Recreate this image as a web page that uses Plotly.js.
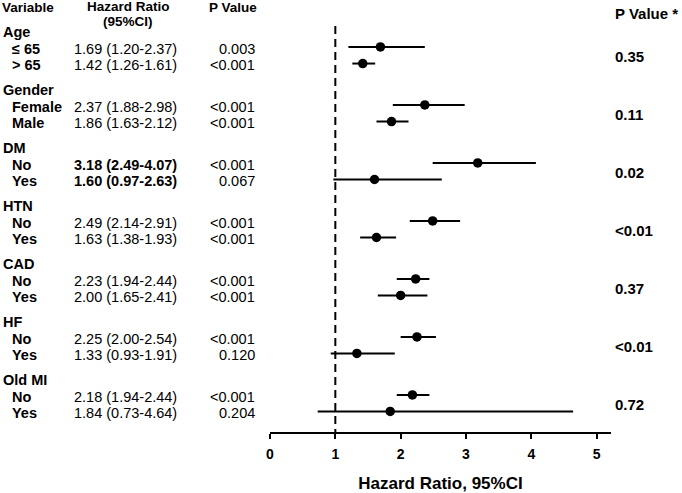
<!DOCTYPE html>
<html>
<head>
<meta charset="utf-8">
<script src="https://cdn.plot.ly/plotly-3.0.1.min.js"></script>
<style>html,body{margin:0;padding:0;background:#fff;}#chart{width:682px;height:493px;}</style>
</head>
<body>
<div id="chart"></div>
<script>
// ---- data ----
var groups = ['Age', 'Gender', 'DM', 'HTN', 'CAD', 'HF', 'Old MI'];
var subgroups = ['≤ 65', '> 65', 'Female', 'Male', 'No', 'Yes', 'No', 'Yes', 'No', 'Yes', 'No', 'Yes', 'No', 'Yes'];
var hr = [1.69, 1.42, 2.37, 1.86, 3.18, 1.60, 2.49, 1.63, 2.23, 2.00, 2.25, 1.33, 2.18, 1.84];
var ciLow = [1.20, 1.26, 1.88, 1.63, 2.49, 0.97, 2.14, 1.38, 1.94, 1.65, 2.00, 0.93, 1.94, 0.73];
var ciHigh = [2.37, 1.61, 2.98, 2.12, 4.07, 2.63, 2.91, 1.93, 2.44, 2.41, 2.54, 1.91, 2.44, 4.64];
var pValues = ['0.003', '<0.001', '<0.001', '<0.001', '<0.001', '0.067', '<0.001', '<0.001', '<0.001', '<0.001', '<0.001', '0.120', '<0.001', '0.204'];
var pInteraction = ['0.35', '0.11', '0.02', '<0.01', '0.37', '<0.01', '0.72'];
var boldGroups = ['DM'];
var xTicks = [0, 1, 2, 3, 4, 5];

// ---- layout helpers ----
var L = 270, R = 71, W = 682, H = 493;
var plotW = W - L - R;
var xMax = 5.22;
function px(p) { return (p - L) / plotW; } // pixel x -> paper x
var GROUP_STEP = 3.5;
var FONT = 'Liberation Sans, Arial, sans-serif';

var rowY = [], groupY = [], midY = [];
groups.forEach(function (g, gi) {
  var base = gi * GROUP_STEP;
  groupY.push(base);
  rowY.push(base + 1, base + 2);
  midY.push(base + 1.5);
});

var ann = [];
function addText(x, y, text, opts) {
  ann.push(Object.assign({
    xref: 'paper', yref: 'y', x: px(x), y: y, text: text, showarrow: false,
    xanchor: 'left', yanchor: 'middle', font: {family: FONT, size: 14.5, color: '#000'}
  }, opts || {}));
}

// headers
var hdrFont = {family: FONT, size: 13.5, color: '#000'};
addText(0, -1.38, '<b>Variable</b>', {font: hdrFont});
addText(128, -1.42, '<b>Hazard Ratio</b>', {xanchor: 'center', font: hdrFont});
addText(128, -0.52, '<b>(95%CI)</b>', {xanchor: 'center', font: hdrFont});
addText(233, -1.38, '<b>P Value</b>', {xanchor: 'center', font: hdrFont});
addText(613, -1.05, '<b>P Value *</b>', {font: {family: FONT, size: 15, color: '#000'}});

groups.forEach(function (g, gi) {
  addText(1, groupY[gi] + 0.1, '<b>' + g + '</b>');
  addText(613, midY[gi] + 0.1, '<b>' + pInteraction[gi] + '</b>', {font: {family: FONT, size: 15, color: '#000'}});
});
subgroups.forEach(function (s, i) {
  var gName = groups[Math.floor(i / 2)];
  var hrTxt = hr[i].toFixed(2) + ' (' + ciLow[i].toFixed(2) + '-' + ciHigh[i].toFixed(2) + ')';
  if (boldGroups.indexOf(gName) >= 0) hrTxt = '<b>' + hrTxt + '</b>';
  addText(10, rowY[i] + 0.1, '<b>' + s + '</b>');
  addText(72, rowY[i] + 0.1, hrTxt);
  addText(257, rowY[i] + 0.1, pValues[i], {xanchor: 'right'});
});

var trace = {
  type: 'scatter', mode: 'markers',
  x: hr, y: rowY,
  marker: {color: '#000', size: 9.5},
  error_x: {
    type: 'data', symmetric: false,
    array: hr.map(function (v, i) { return ciHigh[i] - v; }),
    arrayminus: hr.map(function (v, i) { return v - ciLow[i]; }),
    color: '#000', thickness: 2, width: 0
  },
  hoverinfo: 'skip', showlegend: false, cliponaxis: false
};

var yTop = -1.835, yBottom = 24.24;

var layout = {
  width: W, height: H,
  margin: {l: L, r: R, t: 0, b: 61, pad: 0},
  paper_bgcolor: '#fff', plot_bgcolor: '#fff',
  showlegend: false,
  xaxis: {
    range: [0, xMax], showgrid: false, zeroline: false,
    showline: true, linecolor: '#000', linewidth: 2,
    tickmode: 'array', tickvals: xTicks, ticktext: xTicks.map(String),
    ticks: 'outside', ticklen: 5, tickwidth: 2, tickcolor: '#000',
    ticklabelstandoff: 3,
    tickfont: {family: FONT, size: 14, color: '#000', weight: 'bold'},
    title: {text: '<b>Hazard Ratio, 95%CI</b>', font: {family: FONT, size: 17, color: '#000'}, standoff: 18},
    fixedrange: true
  },
  yaxis: {
    range: [yBottom, yTop], visible: false, showgrid: false, zeroline: false, fixedrange: true
  },
  shapes: [{
    type: 'line', xref: 'x', yref: 'y', x0: 1, x1: 1, y0: -0.27, y1: yBottom,
    line: {color: '#000', width: 2, dash: '8px,5px'}
  }],
  annotations: ann
};

Plotly.newPlot('chart', [trace], layout, {displayModeBar: false, staticPlot: true});
</script>
</body>
</html>
